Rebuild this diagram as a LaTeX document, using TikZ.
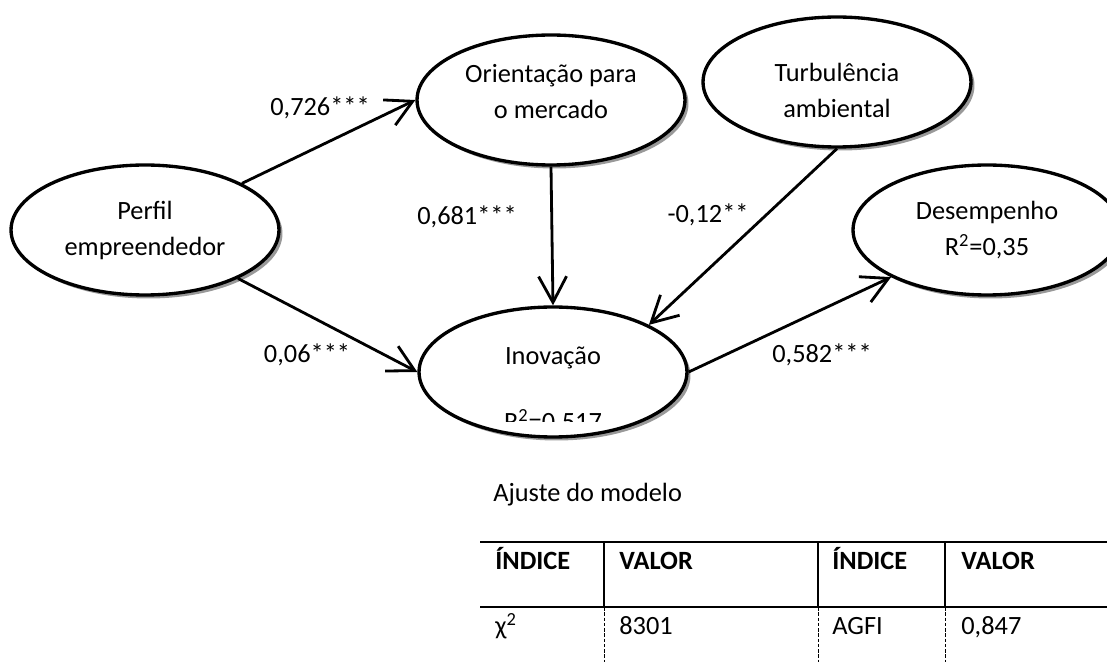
\documentclass[tikz,border=0pt]{standalone}
\usepackage{fontspec}
\setmainfont{Carlito}
\usetikzlibrary{shapes.geometric,arrows.meta,shadows}

\begin{document}
\begin{tikzpicture}[x=0.02cm,y=-0.02cm,
    construto/.style={ellipse,draw,line width=1.9pt,fill=white,
      minimum width=5.36cm,minimum height=2.6cm,align=center,
      font=\fontsize{15}{20.5}\selectfont,
      drop shadow={shadow xshift=2pt,shadow yshift=-2pt,fill=gray!80,opacity=1}},
    seta/.style={line width=1.6pt,-{Straight Barb[length=5.2mm,width=5.6mm]}},
    coef/.style={align=center,font=\fontsize{15}{20.5}\selectfont},
    cel/.style={anchor=base west,inner sep=0pt,font=\fontsize{15}{17}\selectfont},
    celb/.style={cel,font=\fontsize{15}{17}\selectfont\bfseries}]
  \useasboundingbox (0,0) rectangle (1107,662);
  \clip (0,0) rectangle (1107,662);

  \node[construto] (perfil) at (145,230) {Perfil\\empreendedor};
  \node[construto] (orient) at (551,100) {};
  \node[coef] (orienttxt) at (551,92) {Orientação para\\o mercado};
  \node[construto] (turb) at (837,82) {};
  \node[coef] (turbtxt) at (837,90) {Turbulência\\ambiental};
  \node[construto] (desemp) at (987,230) {Desempenho\\R\textsuperscript{2}=0,35};
  \node[construto] (inov) at (553,372) {};
  \node[coef] (inovtxt) at (553,358) {Inovação};
  \begin{scope}
    \clip (420,380) rectangle (690,422);
    \node[coef,anchor=base] (inovr) at (553,431) {R\textsuperscript{2}=0,517};
  \end{scope}

  \draw[seta] (perfil) -- (orient.west);
  \draw[seta] (perfil) -- (inov.west);
  \draw[seta] (orient.south) -- (inov.north);
  \draw[seta] (turb.south) -- (inov.north east);
  \draw[seta] (inov.east) -- (desemp.south west);

  \node[coef] (c1) at (320,108) {0,726***};
  \node[coef] (c2) at (467,217) {0,681***};
  \node[coef] (c3) at (708,215) {-0,12**};
  \node[coef] (c4) at (307,355) {0,06***};
  \node[coef] (c5) at (822,355) {0,582***};

  \node[cel] (ajuste) at (493,502) {Ajuste do modelo};
  \draw[line width=1.5pt] (480,542) -- (1107,542)
                          (480,607) -- (1107,607);
  \draw[line width=1.1pt] (604,542) -- (604,607)
                          (818,542) -- (818,607)
                          (945,542) -- (945,607);
  \draw[line width=0.5pt,dash pattern=on 2pt off 1pt] (604,607) -- (604,662)
                          (818,607) -- (818,662)
                          (945,607) -- (945,662);
  \node[celb] (h1) at (495,570) {ÍNDICE};
  \node[celb] (h2) at (619,570) {VALOR};
  \node[celb] (h3) at (832,570) {ÍNDICE};
  \node[celb] (h4) at (961,570) {VALOR};
  \node[cel] (v1) at (495,635) {χ\textsuperscript{2}};
  \node[cel] (v2) at (619,635) {8301};
  \node[cel] (v3) at (832,635) {AGFI};
  \node[cel] (v4) at (961,635) {0,847};
\end{tikzpicture}
\end{document}
